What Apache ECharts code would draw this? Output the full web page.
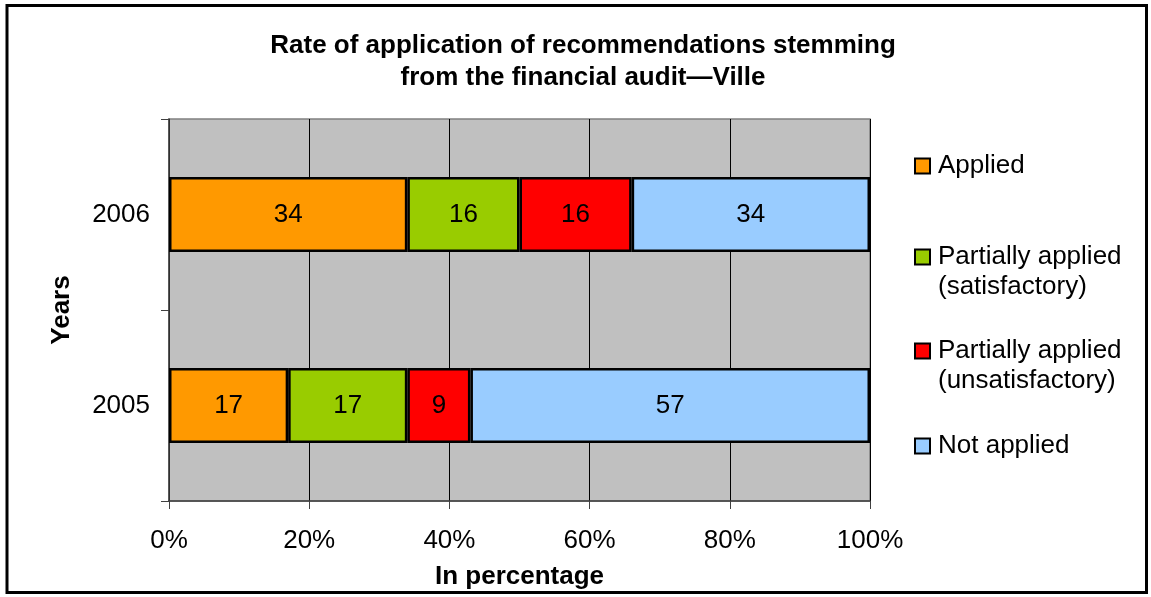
<!DOCTYPE html>
<html>
<head>
<meta charset="utf-8">
<style>
  html, body { margin: 0; padding: 0; background: #fff; }
  #chart { width: 1151px; height: 597px; }
</style>
<script src="https://cdn.jsdelivr.net/npm/echarts@6/dist/echarts.min.js"></script>
</head>
<body>
<div id="chart"></div>
<script>
// Years on the category axis (bottom to top)
const years = ['2005', '2006'];
// Share of recommendations per status, in percent
const applied = [17, 34];
const partialSatisfactory = [17, 16];
const partialUnsatisfactory = [9, 16];
const notApplied = [57, 34];
const xTicks = [0, 20, 40, 60, 80, 100];

const seriesNames = ['Applied', 'Partially applied\n(satisfactory)', 'Partially applied\n(unsatisfactory)', 'Not applied'];
const seriesData = [applied, partialSatisfactory, partialUnsatisfactory, notApplied];
const colors = ['#FF9900', '#99CC00', '#FF0000', '#99CCFF'];

const FONT = 'Liberation Sans, Arial, sans-serif';
const FS = 26;
const LINE = 30;

const chart = echarts.init(document.getElementById('chart'), null, { renderer: 'canvas' });

const series = seriesNames.map((name, i) => ({
  name,
  type: 'bar',
  stack: 'total',
  data: seriesData[i],
  barWidth: 75,
  itemStyle: { color: colors[i], borderColor: '#000', borderWidth: 2.5 },
  label: {
    show: true,
    position: 'inside',
    color: '#000',
    fontFamily: FONT,
    fontSize: FS
  },
  emphasis: { disabled: true }
}));

// One legend block per entry so each sits at its own row. Two-line entries
// get an empty leading line so the swatch lines up with the first text line.
const legendTops = [151, 212, 306, 431];
const legends = seriesNames.map((name, i) => {
  const twoLine = name.indexOf('\n') >= 0;
  return {
    data: [name],
    orient: 'vertical',
    left: 914,
    top: legendTops[i],
    padding: 0,
    icon: 'rect',
    itemWidth: 15,
    itemHeight: 15,
    itemGap: 0,
    selectedMode: false,
    formatter: n => (twoLine ? '\n' + n : n),
    itemStyle: { borderColor: '#000', borderWidth: 2 },
    textStyle: {
      fontFamily: FONT, fontSize: FS, color: '#000', lineHeight: LINE,
      padding: [0, 0, 0, 3]
    }
  };
});

chart.setOption({
  backgroundColor: '#fff',
  animation: false,
  title: {
    text: 'Rate of application of recommendations stemming\nfrom the financial audit\u2014Ville',
    left: 578,
    textAlign: 'center',
    top: 25,
    textStyle: { fontFamily: FONT, fontSize: FS, fontWeight: 'bold', color: '#000', lineHeight: 32 }
  },
  legend: legends,
  grid: {
    left: 169, right: 281, top: 119, bottom: 96,
    show: true,
    backgroundColor: '#C0C0C0',
    borderColor: '#808080',
    borderWidth: 1.5
  },
  xAxis: {
    type: 'value',
    min: 0, max: 100, interval: 20,
    name: 'In percentage',
    nameLocation: 'middle',
    nameGap: 63,
    nameTextStyle: { fontFamily: FONT, fontSize: FS, fontWeight: 'bold', color: '#000' },
    axisLine: { show: true, lineStyle: { color: '#404040', width: 1.5 } },
    axisTick: { show: true, length: 8, lineStyle: { color: '#404040', width: 1 } },
    axisLabel: {
      formatter: v => (xTicks.includes(v) ? v + '%' : ''),
      fontFamily: FONT, fontSize: FS, color: '#000', margin: 27
    },
    splitLine: { show: true, lineStyle: { color: '#000', width: 1 } }
  },
  yAxis: {
    type: 'category',
    data: years,
    name: 'Years',
    nameLocation: 'middle',
    nameRotate: 90,
    nameGap: 94,
    nameTextStyle: { fontFamily: FONT, fontSize: FS, fontWeight: 'bold', color: '#000' },
    axisLine: { show: true, lineStyle: { color: '#404040', width: 1.5 } },
    axisTick: { show: true, length: 8, lineStyle: { color: '#404040', width: 1 } },
    axisLabel: { fontFamily: FONT, fontSize: FS, color: '#000', margin: 19 }
  },
  series,
  graphic: [{
    type: 'rect',
    shape: { x: 7, y: 5.5, width: 1139.5, height: 587 },
    style: { fill: 'none', stroke: '#000', lineWidth: 3 },
    silent: true,
    z: 100
  }]
});
</script>
</body>
</html>
